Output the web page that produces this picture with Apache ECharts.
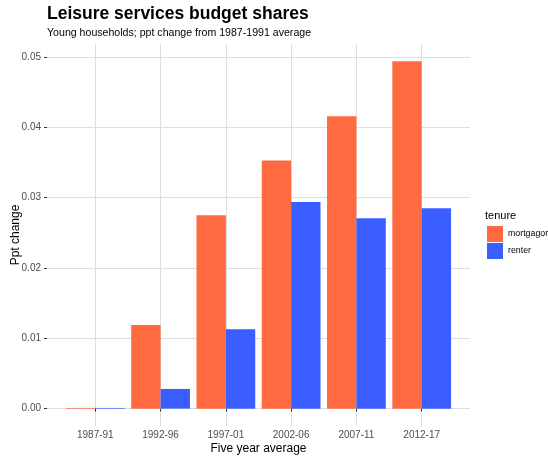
<!DOCTYPE html>
<html>
<head>
<meta charset="utf-8">
<script src="https://cdn.jsdelivr.net/npm/echarts@6/dist/echarts.min.js"></script>
<style>
  html, body { margin: 0; padding: 0; background: #fff; }
  #chart { width: 548px; height: 457px; }
</style>
</head>
<body>
<div id="chart"></div>
<script>
// Five-year periods along the x axis
const periods = ['1987-91', '1992-96', '1997-01', '2002-06', '2007-11', '2012-17'];
// Change in leisure-services budget share vs the 1987-1991 average (ppt)
const mortgagor = [0.0001, 0.0119, 0.0275, 0.0353, 0.0416, 0.0494];
const renter    = [0.0001, 0.0028, 0.0113, 0.0294, 0.0271, 0.0285];
// Tick values on the y axis
const yTicks = [0, 0.01, 0.02, 0.03, 0.04, 0.05];

const FONT = '"Liberation Sans", Arial, Helvetica, sans-serif';
const GRID = '#dedede';

// Periods are placed at positions 1..n on a numeric axis
const positions = periods.map((_, i) => i + 1);
const toPoints = arr => arr.map((v, i) => [i + 1, v]);

const chart = echarts.init(document.getElementById('chart'), null, { renderer: 'canvas' });

chart.setOption({
  animation: false,
  backgroundColor: '#ffffff',
  textStyle: { fontFamily: FONT },
  title: [
    {
      text: 'Leisure services budget shares',
      left: 47, top: 5, padding: 0,
      textStyle: { fontFamily: FONT, fontSize: 17.5, fontWeight: 'bold', color: '#000' }
    },
    {
      text: 'Young households; ppt change from 1987-1991 average',
      left: 47, top: 28, padding: 0,
      textStyle: { fontFamily: FONT, fontSize: 10.6, fontWeight: 'normal', color: '#000' }
    },
    {
      text: 'tenure',
      left: 485, top: 210, padding: 0,
      textStyle: { fontFamily: FONT, fontSize: 11, fontWeight: 'normal', color: '#000' }
    }
  ],
  legend: {
    orient: 'vertical',
    left: 487, top: 226, padding: 0,
    itemWidth: 16, itemHeight: 16, itemGap: 1,
    icon: 'rect',
    textStyle: { fontFamily: FONT, fontSize: 8.8, color: '#000' },
    data: ['mortgagor', 'renter']
  },
  grid: { left: 47, top: 44, width: 423, height: 382, outerBoundsMode: 'none', containLabel: false },
  xAxis: {
    type: 'value',
    min: 0.26, max: periods.length + 0.74,
    name: 'Five year average',
    nameLocation: 'middle',
    nameGap: 17,
    nameMoveOverlap: false,
    nameTextStyle: { fontFamily: FONT, fontSize: 12, color: '#000' },
    axisLine: { show: false },
    axisTick: { show: true, customValues: positions, length: 3, lineStyle: { color: '#333' } },
    axisLabel: {
      customValues: positions,
      margin: 4,
      fontFamily: FONT, fontSize: 10, color: '#4d4d4d',
      formatter: v => periods[Math.round(v) - 1] || ''
    },
    splitLine: { show: true, lineStyle: { color: GRID, width: 1 } }
  },
  yAxis: {
    type: 'value',
    min: -0.00247, max: 0.05187,
    name: 'Ppt change',
    nameLocation: 'middle',
    nameGap: 25,
    nameMoveOverlap: false,
    nameTextStyle: { fontFamily: FONT, fontSize: 12, color: '#000' },
    axisLine: { show: false },
    axisTick: { show: true, customValues: yTicks, length: 3, lineStyle: { color: '#333' } },
    axisLabel: {
      customValues: yTicks,
      margin: 6,
      fontFamily: FONT, fontSize: 10, color: '#4d4d4d',
      formatter: v => v.toFixed(2)
    },
    splitLine: { show: true, lineStyle: { color: GRID, width: 1 } }
  },
  series: [
    {
      name: 'mortgagor',
      type: 'bar',
      data: toPoints(mortgagor),
      barGap: '0%',
      barCategoryGap: '10%',
      itemStyle: { color: '#FF6A40' }
    },
    {
      name: 'renter',
      type: 'bar',
      data: toPoints(renter),
      barGap: '0%',
      barCategoryGap: '10%',
      itemStyle: { color: '#3A5EFF' }
    }
  ]
});
</script>
</body>
</html>
